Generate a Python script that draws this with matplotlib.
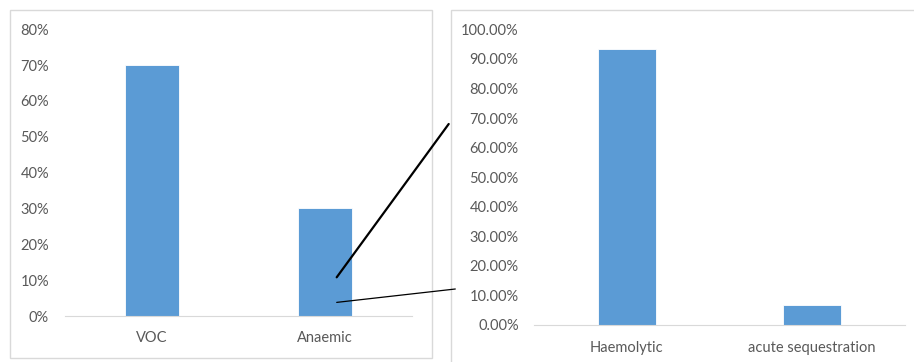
import matplotlib
matplotlib.use("Agg")
import matplotlib.pyplot as plt
from matplotlib.patches import Rectangle, ConnectionPatch
from matplotlib.ticker import PercentFormatter

left_categories = ["VOC", "Anaemic"]
left_values = [0.70, 0.30]
left_ticks = [0, 0.1, 0.2, 0.3, 0.4, 0.5, 0.6, 0.7, 0.8]

right_categories = ["Haemolytic", "acute sequestration"]
right_values = [0.9333, 0.0667]
right_ticks = [0, 0.1, 0.2, 0.3, 0.4, 0.5, 0.6, 0.7, 0.8, 0.9, 1.0]

BAR = "#5b9bd5"
TXT = "#595959"
GRID = "#d9d9d9"
plt.rcParams['font.family'] = ['Lato', 'DejaVu Sans']

W, H = 914, 362
fig = plt.figure(figsize=(W / 100, H / 100), dpi=100)

def fx(px):
    return px / W

def fy(py):
    return 1 - py / H

# panel borders
fig.add_artist(Rectangle((fx(10), fy(358)), fx(422), 348 / H, transform=fig.transFigure,
                         fill=False, edgecolor=GRID, lw=1))
fig.add_artist(Rectangle((fx(451), fy(370)), fx(480), 360 / H, transform=fig.transFigure,
                         fill=False, edgecolor=GRID, lw=1))

def style(ax, cats, vals, ticks, fmt_dec, ymax, ypad, xpad):
    ax.bar(range(len(cats)), vals, width=0.31, color=BAR, edgecolor="white", linewidth=0.6)
    ax.set_xlim(-0.5, len(cats) - 0.5)
    ax.set_ylim(0, ymax)
    ax.set_yticks(ticks)
    ax.yaxis.set_major_formatter(PercentFormatter(1.0, decimals=fmt_dec))
    ax.set_xticks(range(len(cats)))
    ax.set_xticklabels(cats)
    for s in ["top", "right", "left"]:
        ax.spines[s].set_visible(False)
    ax.spines["bottom"].set_color(GRID)
    ax.tick_params(axis="both", length=0, labelsize=10.5, colors=TXT)
    ax.tick_params(axis="y", pad=ypad)
    ax.tick_params(axis="x", pad=xpad)
    ax.patch.set_alpha(0)

ax1 = fig.add_axes([fx(65), fy(316), fx(347), (316 - 29.3) / H])
style(ax1, left_categories, left_values, left_ticks, 0, 0.8, 11.5, 10.5)

ax2 = fig.add_axes([fx(534), fy(325), fx(371), (325 - 29.3) / H])
style(ax2, right_categories, right_values, right_ticks, 2, 1.0, 11, 11.5)

# connector lines
c1 = ConnectionPatch(xyA=(1.066, 0.108), coordsA=ax1.transData,
                     xyB=(fx(448.7), fy(124)), coordsB=fig.transFigure,
                     color="black", lw=1.6)
c2 = ConnectionPatch(xyA=(1.066, 0.038), coordsA=ax1.transData,
                     xyB=(fx(455.3), fy(289)), coordsB=fig.transFigure,
                     color="black", lw=0.9)
fig.add_artist(c1)
fig.add_artist(c2)

fig.savefig("out.png", dpi=100, facecolor="white")
